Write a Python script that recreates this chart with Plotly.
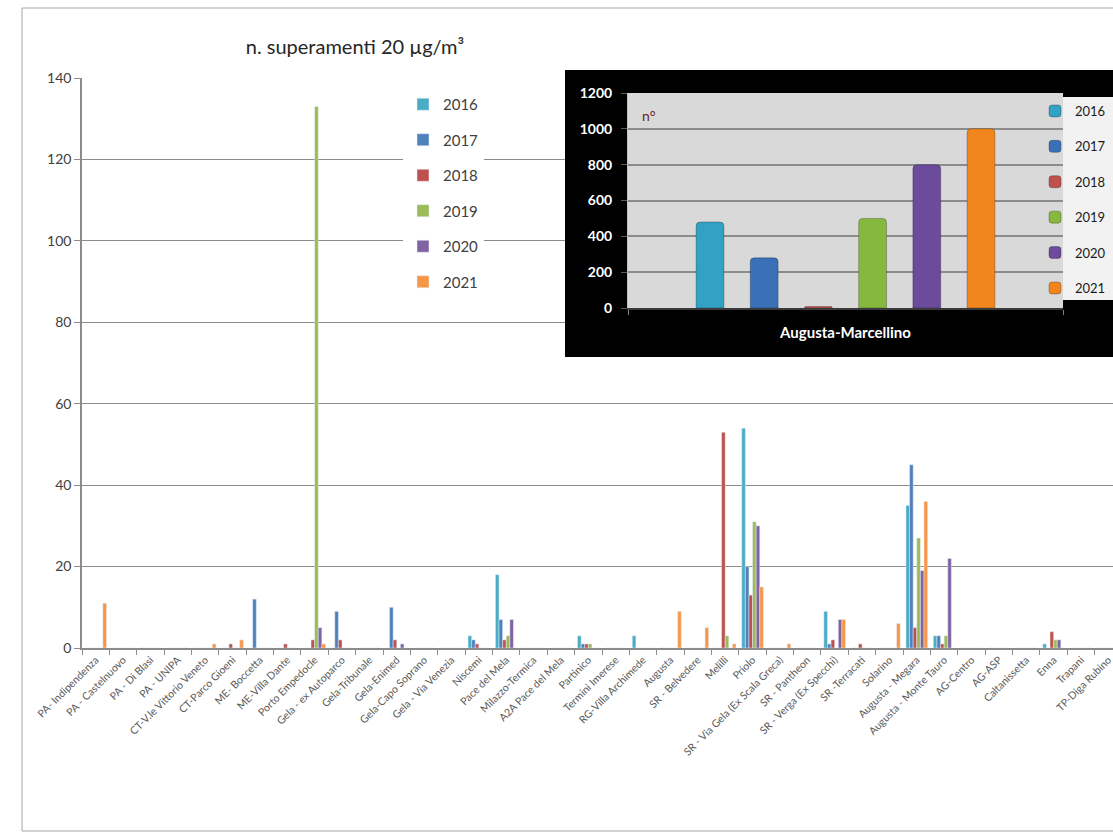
import plotly.graph_objects as go

# stazioni (asse x del grafico principale)
stations = [
    "PA- Indipendenza", "PA - Castelnuovo", "PA - Di Blasi", "PA - UNIPA",
    "CT-V.le Vittorio Veneto", "CT-Parco Gioeni", "ME- Boccetta", "ME-Villa Dante",
    "Porto Empedocle", "Gela - ex Autoparco", "Gela-Tribunale", "Gela-Enimed",
    "Gela-Capo Soprano", "Gela - Via Venezia", "Niscemi", "Pace del Mela",
    "Milazzo-Termica", "A2A Pace del Mela", "Partinico", "Termini Imerese",
    "RG-Villa Archimede", "Augusta", "SR - Belvedere", "Melilli", "Priolo",
    "SR - Via Gela (Ex Scala Greca)", "SR - Pantheon", "SR - Verga (Ex Specchi)",
    "SR -Terracati", "Solarino", "Augusta - Megara", "Augusta - Monte Tauro",
    "AG-Centro", "AG-ASP", "Caltanissetta", "Enna", "Trapani", "TP-Diga Rubino",
]
years = ["2016", "2017", "2018", "2019", "2020", "2021"]

v2016 = [0, 0, 0, 0, 0, 0, 0, 0, 0, 0, 0, 0, 0, 0, 3, 18, 0, 0, 3, 0, 3, 0, 0, 0, 54, 0, 0, 9, 0, 0, 35, 3, 0, 0, 0, 1, 0, 0]
v2017 = [0, 0, 0, 0, 0, 0, 12, 0, 0, 9, 0, 10, 0, 0, 2, 7, 0, 0, 1, 0, 0, 0, 0, 0, 20, 0, 0, 1, 0, 0, 45, 3, 0, 0, 0, 0, 0, 0]
v2018 = [0, 0, 0, 0, 0, 1, 0, 1, 2, 2, 0, 2, 0, 0, 1, 2, 0, 0, 1, 0, 0, 0, 0, 53, 13, 0, 0, 2, 1, 0, 5, 1, 0, 0, 0, 4, 0, 0]
v2019 = [0, 0, 0, 0, 0, 0, 0, 0, 133, 0, 0, 0, 0, 0, 0, 3, 0, 0, 1, 0, 0, 0, 0, 3, 31, 0, 0, 0, 0, 0, 27, 3, 0, 0, 0, 2, 0, 0]
v2020 = [0, 0, 0, 0, 0, 0, 0, 0, 5, 0, 0, 1, 0, 0, 0, 7, 0, 0, 0, 0, 0, 0, 0, 0, 30, 0, 0, 7, 0, 0, 19, 22, 0, 0, 0, 2, 0, 0]
v2021 = [11, 0, 0, 0, 1, 2, 0, 0, 1, 0, 0, 0, 0, 0, 0, 0, 0, 0, 0, 0, 0, 9, 5, 1, 15, 1, 0, 7, 0, 6, 36, 0, 0, 0, 0, 0, 0, 0]
series = [v2016, v2017, v2018, v2019, v2020, v2021]

# riquadro Augusta-Marcellino
inset_station = ["Augusta-Marcellino"]
inset_values = [480, 280, 8, 500, 800, 1000]

COLORS = ["#4BACC6", "#4F81BD", "#C0504D", "#9BBB59", "#8064A2", "#F79646"]
INSET_COLORS = ["#31a2c4", "#3a70b8", "#c0504d", "#86b83e", "#6c4a9c", "#f2861e"]
FONT = "Lato, 'Open Sans', sans-serif"

# the original chart is cropped on the right, so the axis runs past the edge
FIG_W, FIG_H = 1113, 834
PLOT_LEFT, PLOT_TOP, PLOT_BOTTOM = 82, 60, 648
PLOT_W = FIG_W - PLOT_LEFT
PLOT_H = PLOT_BOTTOM - PLOT_TOP
CATEGORY_PX = 27.37


def px_x(x):
    return (x - PLOT_LEFT) / PLOT_W


def px_y(y):
    return (PLOT_BOTTOM - y) / PLOT_H


fig = go.Figure()

for year, values, color in zip(years, series, COLORS):
    fig.add_trace(
        go.Bar(
            name=year,
            x=stations,
            y=values,
            marker_color=color,
            legend="legend",
            legendgroup="m" + year,
        )
    )

# empty subplot used only as black frame for the inset
fig.add_trace(go.Scatter(x=[None], y=[None], xaxis="x2", yaxis="y2", showlegend=False))

slot = 0.1246
bar_w = 0.064
for k, (year, value, color) in enumerate(zip(years, inset_values, INSET_COLORS)):
    fig.add_trace(
        go.Bar(
            name=year,
            x=inset_station,
            y=[value],
            xaxis="x3",
            yaxis="y3",
            width=bar_w,
            offset=-3 * slot + (slot - bar_w) / 2 + k * slot,
            marker=dict(color=color, cornerradius=4, line=dict(color="rgba(0,0,0,0.25)", width=1)),
            legend="legend2",
            legendgroup="i" + year,
        )
    )

fig.update_layout(
    width=FIG_W,
    height=FIG_H,
    margin=dict(l=PLOT_LEFT, r=0, t=PLOT_TOP, b=FIG_H - PLOT_BOTTOM),
    paper_bgcolor="white",
    plot_bgcolor="white",
    font=dict(family=FONT, color="#404040"),
    barmode="group",
    bargap=0.21,
    bargroupgap=0,
    title=dict(
        text="n. superamenti 20 µg/m³",
        x=355 / FIG_W,
        xanchor="center",
        y=1 - 47 / FIG_H,
        yanchor="middle",
        font=dict(size=20, color="#262626"),
    ),
    xaxis=dict(
        domain=[0, 1],
        range=[-0.5, -0.5 + PLOT_W / CATEGORY_PX],
        anchor="y",
        tickangle=-45,
        tickfont=dict(size=10.5, color="#595959"),
        showline=True,
        linecolor="#8c8c8c",
        linewidth=1.5,
        ticks="outside",
        tickson="boundaries",
        ticklen=5,
        tickcolor="#8c8c8c",
        showgrid=False,
    ),
    yaxis=dict(
        domain=[0, px_y(78)],
        range=[0, 140],
        dtick=20,
        anchor="x",
        gridcolor="#8c8c8c",
        gridwidth=1.3,
        showline=True,
        linecolor="#8c8c8c",
        linewidth=1.5,
        ticks="outside",
        ticklen=6,
        tickcolor="#8c8c8c",
        tickfont=dict(size=14, color="#404040"),
        zeroline=False,
    ),
    xaxis2=dict(domain=[px_x(565), 1], range=[0, 1], anchor="y2", visible=False),
    yaxis2=dict(domain=[px_y(357), px_y(70)], range=[0, 1], anchor="x2", visible=False),
    xaxis3=dict(
        domain=[px_x(628), px_x(1063)],
        anchor="y3",
        type="category",
        range=[-0.5, 0.5],
        showline=True,
        linecolor="#3a3a3a",
        linewidth=1.5,
        ticks="outside",
        tickson="boundaries",
        ticklen=5,
        tickcolor="#7f7f7f",
        tickfont=dict(size=15, color="white", weight="bold"),
        ticklabelstandoff=10,
        showgrid=False,
    ),
    yaxis3=dict(
        domain=[px_y(308), px_y(93)],
        anchor="x3",
        range=[0, 1200],
        dtick=200,
        gridcolor="#8c8c8c",
        gridwidth=1.5,
        showline=True,
        linecolor="#bfbfbf",
        ticks="outside",
        ticklen=6,
        tickcolor="#595959",
        tickfont=dict(size=14, color="white", weight="bold"),
        ticklabelstandoff=6,
        zeroline=False,
    ),
    legend=dict(
        x=px_x(403),
        y=px_y(88),
        xanchor="left",
        yanchor="top",
        bgcolor="white",
        font=dict(size=15, color="#404040"),
        traceorder="grouped",
        tracegroupgap=13,
    ),
    legend2=dict(
        x=px_x(1035),
        y=px_y(96),
        xanchor="left",
        yanchor="top",
        bgcolor="rgba(0,0,0,0)",
        font=dict(size=13, color="#1a1a1a"),
        traceorder="grouped",
        tracegroupgap=15.5,
    ),
    shapes=[
        # cornice esterna
        dict(type="rect", xref="paper", yref="paper", layer="below",
             x0=px_x(22), x1=px_x(FIG_W + 10), y0=px_y(831), y1=px_y(8),
             line=dict(color="#a6a6a6", width=1), fillcolor="rgba(0,0,0,0)"),
        # fondo nero del riquadro
        dict(type="rect", xref="x2", yref="y2", layer="below",
             x0=0, x1=1, y0=0, y1=1, line=dict(width=0), fillcolor="black"),
        # fondo della legenda del riquadro
        dict(type="rect", xref="x2", yref="y2", layer="below",
             x0=(1058 - 565) / (FIG_W - 565), x1=1,
             y0=(357 - 300) / 287, y1=(357 - 97) / 287,
             line=dict(width=0), fillcolor="#f2f2f2"),
        # area grigia del riquadro
        dict(type="rect", xref="x3", yref="y3", layer="below",
             x0=-0.5, x1=0.5, y0=0, y1=1200, line=dict(width=0), fillcolor="#d9d9d9"),
    ],
    annotations=[
        dict(text="n°", xref="paper", yref="paper", x=px_x(640), y=px_y(115),
             xanchor="left", yanchor="middle", showarrow=False,
             font=dict(size=14, color="#6b2222")),
    ],
)

fig.write_html(
    "out.html",
    config={"displayModeBar": False},
    post_script="document.body.style.margin='0';document.body.style.overflow='hidden';",
)
